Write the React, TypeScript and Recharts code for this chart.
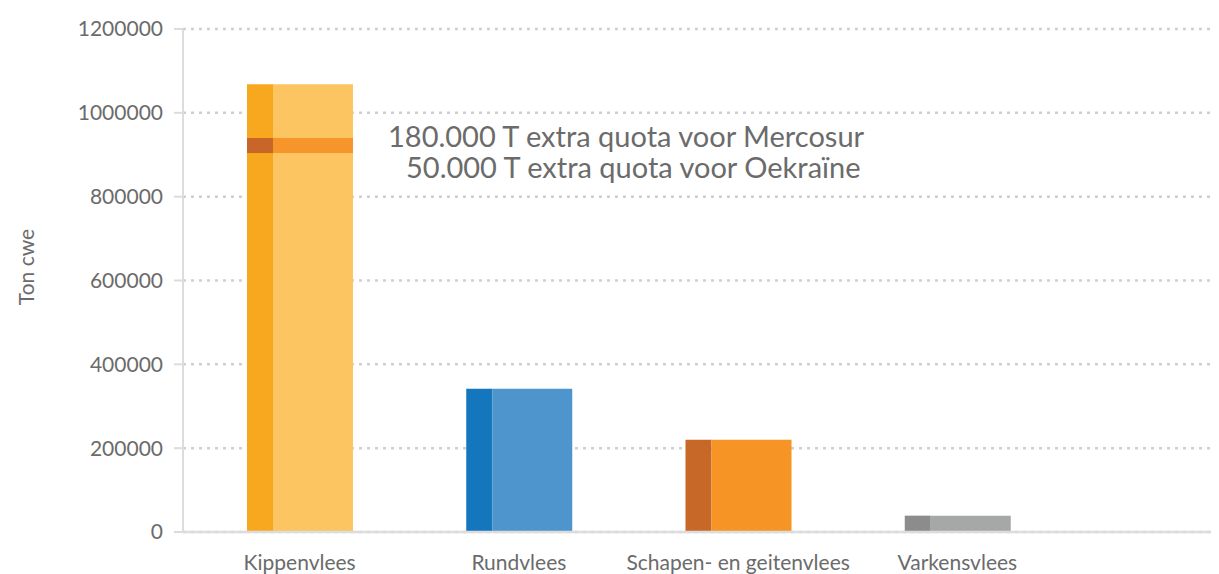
import { BarChart, Bar, XAxis, YAxis, CartesianGrid, Cell, Customized } from 'recharts'

const categories = ['Kippenvlees', 'Rundvlees', 'Schapen- en geitenvlees', 'Varkensvlees']
const baseVolume = [904000, 342000, 220000, 39000]
const quotaBand = [36000, 0, 0, 0]
const topVolume = [128000, 0, 0, 0]
const yTicks = [0, 200000, 400000, 600000, 800000, 1000000, 1200000]

const DARK = ['#f7a81e', '#1476bc', '#c86828', '#8c8c8c']
const LIGHT = ['#fcc562', '#4f95cd', '#f69426', '#a6a8a8']
const BAND_DARK = '#c8662a'
const BAND_LIGHT = '#f6952a'

const TEXT = '#6b6b6b'
const AXIS = '#dcdcdc'

const data = categories.map((name, i) => ({
  name,
  base: baseVolume[i],
  band: quotaBand[i],
  top: topVolume[i],
}))

function Annotations() {
  return (
    <g fontFamily="Lato, sans-serif" fill={TEXT}>
      <text x={17} y={259} fontSize={21} textAnchor="middle" dominantBaseline="central" transform="rotate(-90 17 259)">
        Ton cwe
      </text>
      <text x={380} y={139} fontSize={29}>180.000 T extra quota voor Mercosur</text>
      <text x={398} y={170} fontSize={29}>50.000 T extra quota voor Oekraïne</text>
    </g>
  )
}

export default function App() {
  return (
    <div style={{ fontFamily: 'Lato, sans-serif' }}>
      <BarChart width={1211} height={566} data={data} margin={{ top: 21, right: 0, bottom: 0, left: 0 }} barGap={0}>
        <CartesianGrid vertical={false} stroke="#cfcfcf" strokeWidth={2.5} strokeDasharray="3 5" />
        <XAxis
          dataKey="name"
          height={42}
          padding={{ left: 7, right: 152 }}
          tickLine={false}
          tickSize={0}
          tickMargin={23}
          axisLine={{ stroke: AXIS, strokeWidth: 2.5 }}
          tick={{ fill: TEXT, fontSize: 21 }}
          interval={0}
        />
        <YAxis
          width={175}
          domain={[0, 1200000]}
          ticks={yTicks}
          interval={0}
          tickSize={9}
          tickMargin={11}
          tickLine={{ stroke: AXIS, strokeWidth: 2 }}
          axisLine={{ stroke: AXIS, strokeWidth: 2 }}
          tick={{ fill: TEXT, fontSize: 21 }}
        />
        <Bar dataKey="base" stackId="dark" barSize={26} isAnimationActive={false}>
          {data.map((d, i) => <Cell key={d.name} fill={DARK[i]} />)}
        </Bar>
        <Bar dataKey="band" stackId="dark" barSize={26} isAnimationActive={false}>
          {data.map((d) => <Cell key={d.name} fill={BAND_DARK} />)}
        </Bar>
        <Bar dataKey="top" stackId="dark" barSize={26} isAnimationActive={false}>
          {data.map((d, i) => <Cell key={d.name} fill={DARK[i]} />)}
        </Bar>
        <Bar dataKey="base" stackId="light" barSize={80} isAnimationActive={false}>
          {data.map((d, i) => <Cell key={d.name} fill={LIGHT[i]} />)}
        </Bar>
        <Bar dataKey="band" stackId="light" barSize={80} isAnimationActive={false}>
          {data.map((d) => <Cell key={d.name} fill={BAND_LIGHT} />)}
        </Bar>
        <Bar dataKey="top" stackId="light" barSize={80} isAnimationActive={false}>
          {data.map((d, i) => <Cell key={d.name} fill={LIGHT[i]} />)}
        </Bar>
        <Customized component={Annotations} />
      </BarChart>
    </div>
  )
}
